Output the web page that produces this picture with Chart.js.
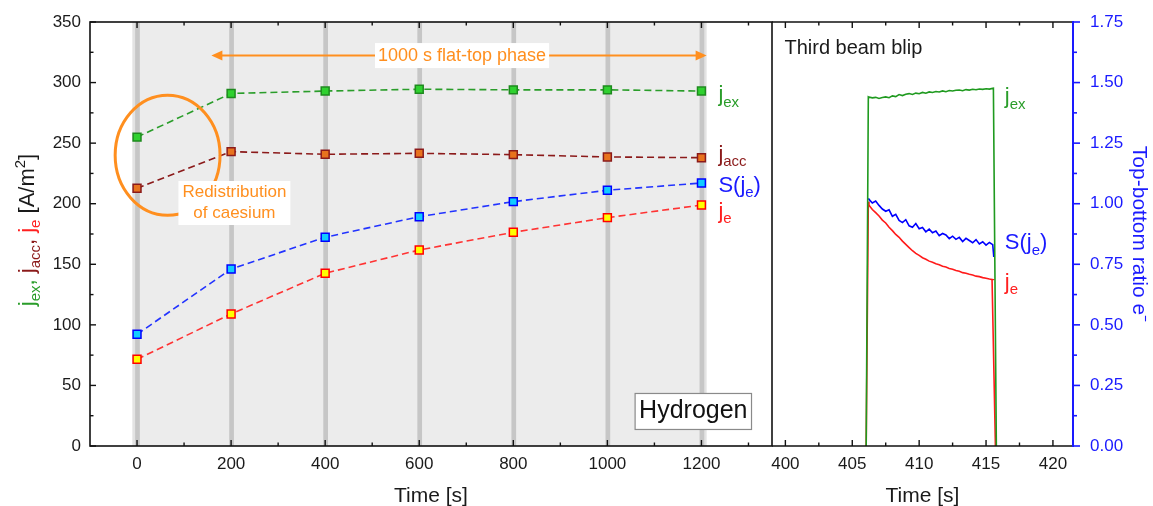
<!DOCTYPE html>
<html>
<head>
<meta charset="utf-8">
<script src="https://cdn.jsdelivr.net/npm/chart.js@4.4.0/dist/chart.umd.min.js"></script>
<style>
  html, body { margin: 0; padding: 0; background: #fff; }
  #wrap { position: relative; width: 1153px; height: 506px; overflow: hidden; }
  #left { position: absolute; left: 0; top: 0; }
  #right { position: absolute; left: 766px; top: 0; }
</style>
</head>
<body>
<div id="wrap">
  <canvas id="left" width="780" height="506"></canvas>
  <canvas id="right" width="387" height="506"></canvas>
</div>
<script>
const FONT = '"Liberation Sans", Arial, sans-serif';
const INK = '#1a1a1a';
const GREEN = '#2a9d2a';
const DARKRED = '#8b1a1a';
const RED = '#ff2020';
const BLUE = '#1a1aff';
const ORANGE = '#ff8f1f';

// left panel: values at each beam blip
const blipTimes = [0, 200, 400, 600, 800, 1000, 1200];
const jexValues = [255, 291, 293, 294.5, 294, 294, 293];
const jaccValues = [212.7, 243, 240.8, 241.6, 240.5, 238.6, 238];
const sjeValues = [92.2, 146.1, 172.3, 189.3, 201.7, 211.1, 217.1];
const jeValues = [71.6, 109, 142.6, 161.8, 176.4, 188.5, 198.9];

const leftTimeTicks = [0, 200, 400, 600, 800, 1000, 1200];
const leftTimeMinor = [100, 300, 500, 700, 900, 1100, 1300];
const currentTicks = [0, 50, 100, 150, 200, 250, 300, 350];
const currentMinor = [25, 75, 125, 175, 225, 275, 325];

// right panel: third beam blip traces
const traceTime = [406.25, 406.5, 406.75, 407.0, 407.25, 407.5, 407.75, 408.0, 408.25, 408.5,
  408.75, 409.0, 409.25, 409.5, 409.75, 410.0, 410.25, 410.5, 410.75, 411.0,
  411.25, 411.5, 411.75, 412.0, 412.25, 412.5, 412.75, 413.0, 413.25, 413.5,
  413.75, 414.0, 414.25, 414.5, 414.75, 415.0, 415.25, 415.5];
const jexTrace = [288.0, 287.4, 287.8, 286.9, 287.6, 288.2, 287.5, 289.0, 288.4, 290.1,
  289.3, 290.4, 290.9, 290.2, 291.3, 290.8, 291.9, 291.2, 292.3, 291.8,
  292.6, 292.2, 293.1, 292.5, 293.4, 293.0, 293.6, 293.9, 293.3, 294.2,
  293.8, 294.5, 294.1, 294.7, 294.4, 294.9, 294.6, 295.2];
const jeTrace = [198.8, 195.2, 192.6, 189.9, 186.5, 184.1, 180.6, 177.8, 174.6, 172.3,
  169.1, 166.4, 163.8, 161.2, 159.0, 157.3, 155.4, 154.2, 152.6, 151.7,
  150.4, 149.6, 148.3, 147.7, 146.5, 145.9, 144.8, 144.2, 143.1, 142.6,
  141.7, 141.1, 140.2, 139.8, 139.0, 138.5, 137.8, 137.3];
const sjeTrace = [1.018, 1.003, 1.011, 0.993, 0.978, 0.969, 0.975, 0.948, 0.956, 0.931,
  0.922, 0.934, 0.909, 0.903, 0.918, 0.897, 0.902, 0.884, 0.895, 0.880,
  0.887, 0.868, 0.877, 0.871, 0.856, 0.866, 0.853, 0.861, 0.844, 0.857,
  0.848, 0.839, 0.852, 0.834, 0.843, 0.829, 0.840, 0.831];
// switch-on / switch-off edges of the blip
const jexRise = [[406.04, 0], [406.2, 288.3]];
const jexFall = [[415.55, 295.3], [415.77, 0]];
const jeRise = [[406.04, 0], [406.2, 201.7]];
const jeFall = [[415.45, 137.0], [415.7, 0]];
const sjeStart = [[406.2, 1.022]];
const sjeEnd = [[415.58, 0.78]];

const rightTimeTicks = [400, 405, 410, 415, 420];
const rightTimeMinor = [402.5, 407.5, 412.5, 417.5];
const ratioTicks = [0, 0.25, 0.5, 0.75, 1.0, 1.25, 1.5, 1.75];
const ratioMinor = [0.125, 0.375, 0.625, 0.875, 1.125, 1.375, 1.625];

function pts(xs, ys) { return xs.map((x, i) => ({ x: x, y: ys[i] })); }
function pairs(a) { return a.map(p => ({ x: p[0], y: p[1] })); }

function fontFor(mode, size) { return (mode ? Math.round(size * 0.7) : size) + 'px ' + FONT; }
function richWidth(ctx, parts, size) {
  let w = 0;
  parts.forEach(p => { ctx.font = fontFor(p[2], size); w += ctx.measureText(p[0]).width; });
  return w;
}
function drawRich(ctx, parts, x, y, size) {
  ctx.textAlign = 'left';
  ctx.textBaseline = 'alphabetic';
  let cx = x;
  parts.forEach(([t, c, mode]) => {
    ctx.font = fontFor(mode, size);
    ctx.fillStyle = c;
    const dy = mode === 'sub' ? size * 0.25 : mode === 'sup' ? -size * 0.4 : 0;
    ctx.fillText(t, cx, y + dy);
    cx += ctx.measureText(t).width;
  });
}
function fillSpan(ctx, x, a, t0, t1, color) {
  const p0 = x.getPixelForValue(t0), p1 = x.getPixelForValue(t1);
  ctx.fillStyle = color;
  ctx.fillRect(p0, a.top, p1 - p0, a.bottom - a.top);
}
function xTicks(ctx, x, values, edge, dir, len) {
  values.forEach(v => {
    const p = x.getPixelForValue(v);
    ctx.beginPath(); ctx.moveTo(p, edge); ctx.lineTo(p, edge + dir * len); ctx.stroke();
  });
}
function yTicks(ctx, y, values, edge, dir, len) {
  values.forEach(v => {
    const p = y.getPixelForValue(v);
    ctx.beginPath(); ctx.moveTo(edge, p); ctx.lineTo(edge + dir * len, p); ctx.stroke();
  });
}
function boxedText(ctx, lines, cx, cy, size, color, lineGap, padX, padY, border) {
  ctx.font = size + 'px ' + FONT;
  const w = Math.max(...lines.map(l => ctx.measureText(l).width)) + 2 * padX;
  const h = lineGap * (lines.length - 1) + size + 2 * padY;
  ctx.fillStyle = '#fff';
  ctx.fillRect(cx - w / 2, cy - h / 2, w, h);
  if (border) { ctx.strokeStyle = border; ctx.lineWidth = 1.2; ctx.strokeRect(cx - w / 2, cy - h / 2, w, h); }
  ctx.fillStyle = color;
  ctx.textAlign = 'center';
  ctx.textBaseline = 'middle';
  lines.forEach((l, i) => ctx.fillText(l, cx, cy - lineGap * (lines.length - 1) / 2 + i * lineGap));
}
function noPad(s) { s.paddingLeft = 0; s.paddingRight = 0; s.paddingTop = 0; s.paddingBottom = 0; }

const leftDecor = {
  id: 'leftDecor',
  beforeDraw(chart) {
    const { ctx, chartArea: a, scales: { x } } = chart;
    ctx.save();
    fillSpan(ctx, x, a, -10, 1211, '#e3e3e3');
    fillSpan(ctx, x, a, 0, 1200, '#ececec');
    blipTimes.forEach(t => fillSpan(ctx, x, a, t - 4, t + 6, '#c6c6c6'));
    ctx.restore();
  },
  afterDatasetsDraw(chart) {
    const { ctx, scales: { x, y } } = chart;
    ctx.save();
    // redistribution circle
    const cx = x.getPixelForValue(65), cy = y.getPixelForValue(240);
    const rx = x.getPixelForValue(176.5) - cx, ry = cy - y.getPixelForValue(289.5);
    ctx.strokeStyle = ORANGE; ctx.lineWidth = 3;
    ctx.beginPath(); ctx.ellipse(cx, cy, rx, ry, 0, 0, Math.PI * 2); ctx.stroke();
    boxedText(ctx, ['Redistribution', 'of caesium'], x.getPixelForValue(207), y.getPixelForValue(200.6), 17, ORANGE, 21, 4, 3);

    // flat-top arrow
    const ay = y.getPixelForValue(322.3);
    const a0 = x.getPixelForValue(158), a1 = x.getPixelForValue(1211);
    ctx.strokeStyle = ORANGE; ctx.fillStyle = ORANGE; ctx.lineWidth = 2;
    ctx.beginPath(); ctx.moveTo(a0 + 8, ay); ctx.lineTo(a1 - 8, ay); ctx.stroke();
    ctx.beginPath(); ctx.moveTo(a0, ay); ctx.lineTo(a0 + 11, ay - 5); ctx.lineTo(a0 + 11, ay + 5); ctx.closePath(); ctx.fill();
    ctx.beginPath(); ctx.moveTo(a1, ay); ctx.lineTo(a1 - 11, ay - 5); ctx.lineTo(a1 - 11, ay + 5); ctx.closePath(); ctx.fill();
    boxedText(ctx, ['1000 s flat-top phase'], x.getPixelForValue(691), ay, 18, ORANGE, 0, 3, 3.5);

    boxedText(ctx, ['Hydrogen'], x.getPixelForValue(1182.7), y.getPixelForValue(28.5), 25, '#111', 0, 4, 5.5, '#8a8a8a');

    // series labels
    const lx = x.getPixelForValue(1236);
    drawRich(ctx, [['j', GREEN], ['ex', GREEN, 'sub']], lx, y.getPixelForValue(284.6), 22);
    drawRich(ctx, [['j', DARKRED], ['acc', DARKRED, 'sub']], lx, y.getPixelForValue(235.4), 22);
    drawRich(ctx, [['S(j', BLUE], ['e', BLUE, 'sub'], [')', BLUE]], lx, y.getPixelForValue(209.8), 22);
    drawRich(ctx, [['j', RED], ['e', RED, 'sub']], lx, y.getPixelForValue(188.6), 22);
    ctx.restore();
  },
  afterDraw(chart) {
    const { ctx, chartArea: a, scales: { x, y } } = chart;
    ctx.save();
    ctx.strokeStyle = '#111'; ctx.lineWidth = 1.6;
    ctx.strokeRect(a.left, a.top, a.right - a.left, a.bottom - a.top);
    ctx.lineWidth = 1.4;
    xTicks(ctx, x, leftTimeTicks, a.bottom, -1, 6);
    xTicks(ctx, x, leftTimeMinor, a.bottom, -1, 3.5);
    xTicks(ctx, x, leftTimeTicks, a.top, 1, 6);
    xTicks(ctx, x, leftTimeMinor, a.top, 1, 3.5);
    yTicks(ctx, y, currentTicks, a.left, 1, 6);
    yTicks(ctx, y, currentMinor, a.left, 1, 3.5);

    // rotated y title with coloured parts
    const parts = [['j', GREEN], ['ex', GREEN, 'sub'], [', ', GREEN], ['j', DARKRED], ['acc', DARKRED, 'sub'],
      [', ', DARKRED], ['j', RED], ['e', RED, 'sub'], [' [A/m', INK], ['2', INK, 'sup'], [']', INK]];
    const size = 22;
    const w = richWidth(ctx, parts, size);
    ctx.translate(34, 230);
    ctx.rotate(-Math.PI / 2);
    drawRich(ctx, parts, -w / 2, 0, size);
    ctx.restore();
  }
};

const rightDecor = {
  id: 'rightDecor',
  afterDraw(chart) {
    const { ctx, chartArea: a, scales: { x, y, y2 } } = chart;
    ctx.save();
    ctx.strokeStyle = '#111'; ctx.lineWidth = 1.6;
    ctx.beginPath(); ctx.moveTo(a.left, a.top); ctx.lineTo(a.right, a.top); ctx.stroke();
    ctx.beginPath(); ctx.moveTo(a.left, a.bottom); ctx.lineTo(a.right, a.bottom); ctx.stroke();
    ctx.lineWidth = 1.4;
    xTicks(ctx, x, rightTimeTicks, a.bottom, -1, 6);
    xTicks(ctx, x, rightTimeMinor, a.bottom, -1, 3.5);
    xTicks(ctx, x, rightTimeTicks, a.top, 1, 6);
    xTicks(ctx, x, rightTimeMinor, a.top, 1, 3.5);
    ctx.strokeStyle = BLUE; ctx.lineWidth = 2;
    ctx.beginPath(); ctx.moveTo(a.right, a.top - 1); ctx.lineTo(a.right, a.bottom + 1); ctx.stroke();
    ctx.lineWidth = 1.6;
    yTicks(ctx, y2, ratioTicks, a.right, 1, 7);
    yTicks(ctx, y2, ratioMinor, a.right, 1, 4);

    ctx.font = '20px ' + FONT; ctx.fillStyle = INK;
    ctx.textAlign = 'left'; ctx.textBaseline = 'middle';
    ctx.fillText('Third beam blip', x.getPixelForValue(399.93), y.getPixelForValue(328.5));

    const lx = x.getPixelForValue(416.4);
    drawRich(ctx, [['j', GREEN], ['ex', GREEN, 'sub']], lx, y.getPixelForValue(283.1), 22);
    drawRich(ctx, [['S(j', BLUE], ['e', BLUE, 'sub'], [')', BLUE]], lx, y.getPixelForValue(162.6), 22);
    drawRich(ctx, [['j', RED], ['e', RED, 'sub']], lx, y.getPixelForValue(130.0), 22);
    ctx.restore();
  }
};

function seriesSet(label, values, line, fill, edge) {
  return {
    label: label, data: pts(blipTimes, values),
    borderColor: line, borderWidth: 1.6, borderDash: [7, 4],
    pointStyle: 'rect', pointRadius: 5.6, pointBackgroundColor: fill,
    pointBorderColor: edge, pointBorderWidth: 1.5, tension: 0
  };
}

const tickFont = { family: FONT, size: 17 };
const titleFont = { family: FONT, size: 21 };
const noGrid = { display: false, drawTicks: false };

new Chart(document.getElementById('left'), {
  type: 'line',
  data: {
    datasets: [
      seriesSet('j_ex', jexValues, GREEN, '#2fd12f', '#1e8a1e'),
      seriesSet('j_acc', jaccValues, DARKRED, '#e8731e', DARKRED),
      seriesSet('S(j_e)', sjeValues, '#2233ff', '#11ccff', '#0000ff'),
      seriesSet('j_e', jeValues, '#ff3333', '#ffff00', '#ff0000')
    ]
  },
  options: {
    responsive: false, animation: false,
    layout: { padding: { top: 22, right: 8, left: 0, bottom: 0 } },
    plugins: { legend: { display: false }, tooltip: { enabled: false } },
    scales: {
      x: {
        type: 'linear', min: -100, max: 1350,
        grid: noGrid, border: { display: false },
        afterBuildTicks: s => { s.ticks = leftTimeTicks.map(v => ({ value: v })); },
        ticks: { font: tickFont, color: INK, padding: 8, maxRotation: 0, autoSkip: false, callback: v => String(v) },
        title: { display: true, text: 'Time [s]', font: titleFont, color: INK, padding: { top: 0, bottom: -3 } },
        afterFit: s => { s.height = 60; noPad(s); }
      },
      y: {
        min: 0, max: 350,
        grid: noGrid, border: { display: false },
        afterBuildTicks: s => { s.ticks = currentTicks.map(v => ({ value: v })); },
        ticks: { font: tickFont, color: INK, padding: 9, callback: v => String(v) },
        afterFit: s => { s.width = 90; noPad(s); }
      }
    }
  },
  plugins: [leftDecor]
});

new Chart(document.getElementById('right'), {
  type: 'line',
  data: {
    datasets: [
      { label: 'j_ex', data: pairs(jexRise).concat(pts(traceTime, jexTrace), pairs(jexFall)),
        yAxisID: 'y', borderColor: '#1f9a1f', borderWidth: 1.6, pointRadius: 0, tension: 0 },
      { label: 'S(j_e)', data: pairs(sjeStart).concat(pts(traceTime, sjeTrace), pairs(sjeEnd)),
        yAxisID: 'y2', borderColor: '#0000ff', borderWidth: 1.6, pointRadius: 0, tension: 0 },
      { label: 'j_e', data: pairs(jeRise).concat(pts(traceTime, jeTrace), pairs(jeFall)),
        yAxisID: 'y', borderColor: '#ff1a1a', borderWidth: 1.6, pointRadius: 0, tension: 0 }
    ]
  },
  options: {
    responsive: false, animation: false,
    layout: { padding: { top: 22, right: 0, left: 6, bottom: 0 } },
    plugins: { legend: { display: false }, tooltip: { enabled: false } },
    scales: {
      x: {
        type: 'linear', min: 399, max: 421.5,
        grid: noGrid, border: { display: false },
        afterBuildTicks: s => { s.ticks = rightTimeTicks.map(v => ({ value: v })); },
        ticks: { font: tickFont, color: INK, padding: 8, maxRotation: 0, autoSkip: false, callback: v => String(v) },
        title: { display: true, text: 'Time [s]', font: titleFont, color: INK, padding: { top: 0, bottom: -3 } },
        afterFit: s => { s.height = 60; noPad(s); }
      },
      y: { display: false, min: 0, max: 350 },
      y2: {
        position: 'right', min: 0, max: 1.75,
        grid: noGrid, border: { display: false },
        afterBuildTicks: s => { s.ticks = ratioTicks.map(v => ({ value: v })); },
        ticks: { font: tickFont, color: BLUE, padding: 17, callback: v => v.toFixed(2) },
        title: { display: true, text: 'Top-bottom ratio e\u207B', font: titleFont, color: BLUE, padding: { top: 2, bottom: 0 } },
        afterFit: s => { s.width = 80; noPad(s); }
      }
    }
  },
  plugins: [rightDecor]
});
</script>
</body>
</html>
